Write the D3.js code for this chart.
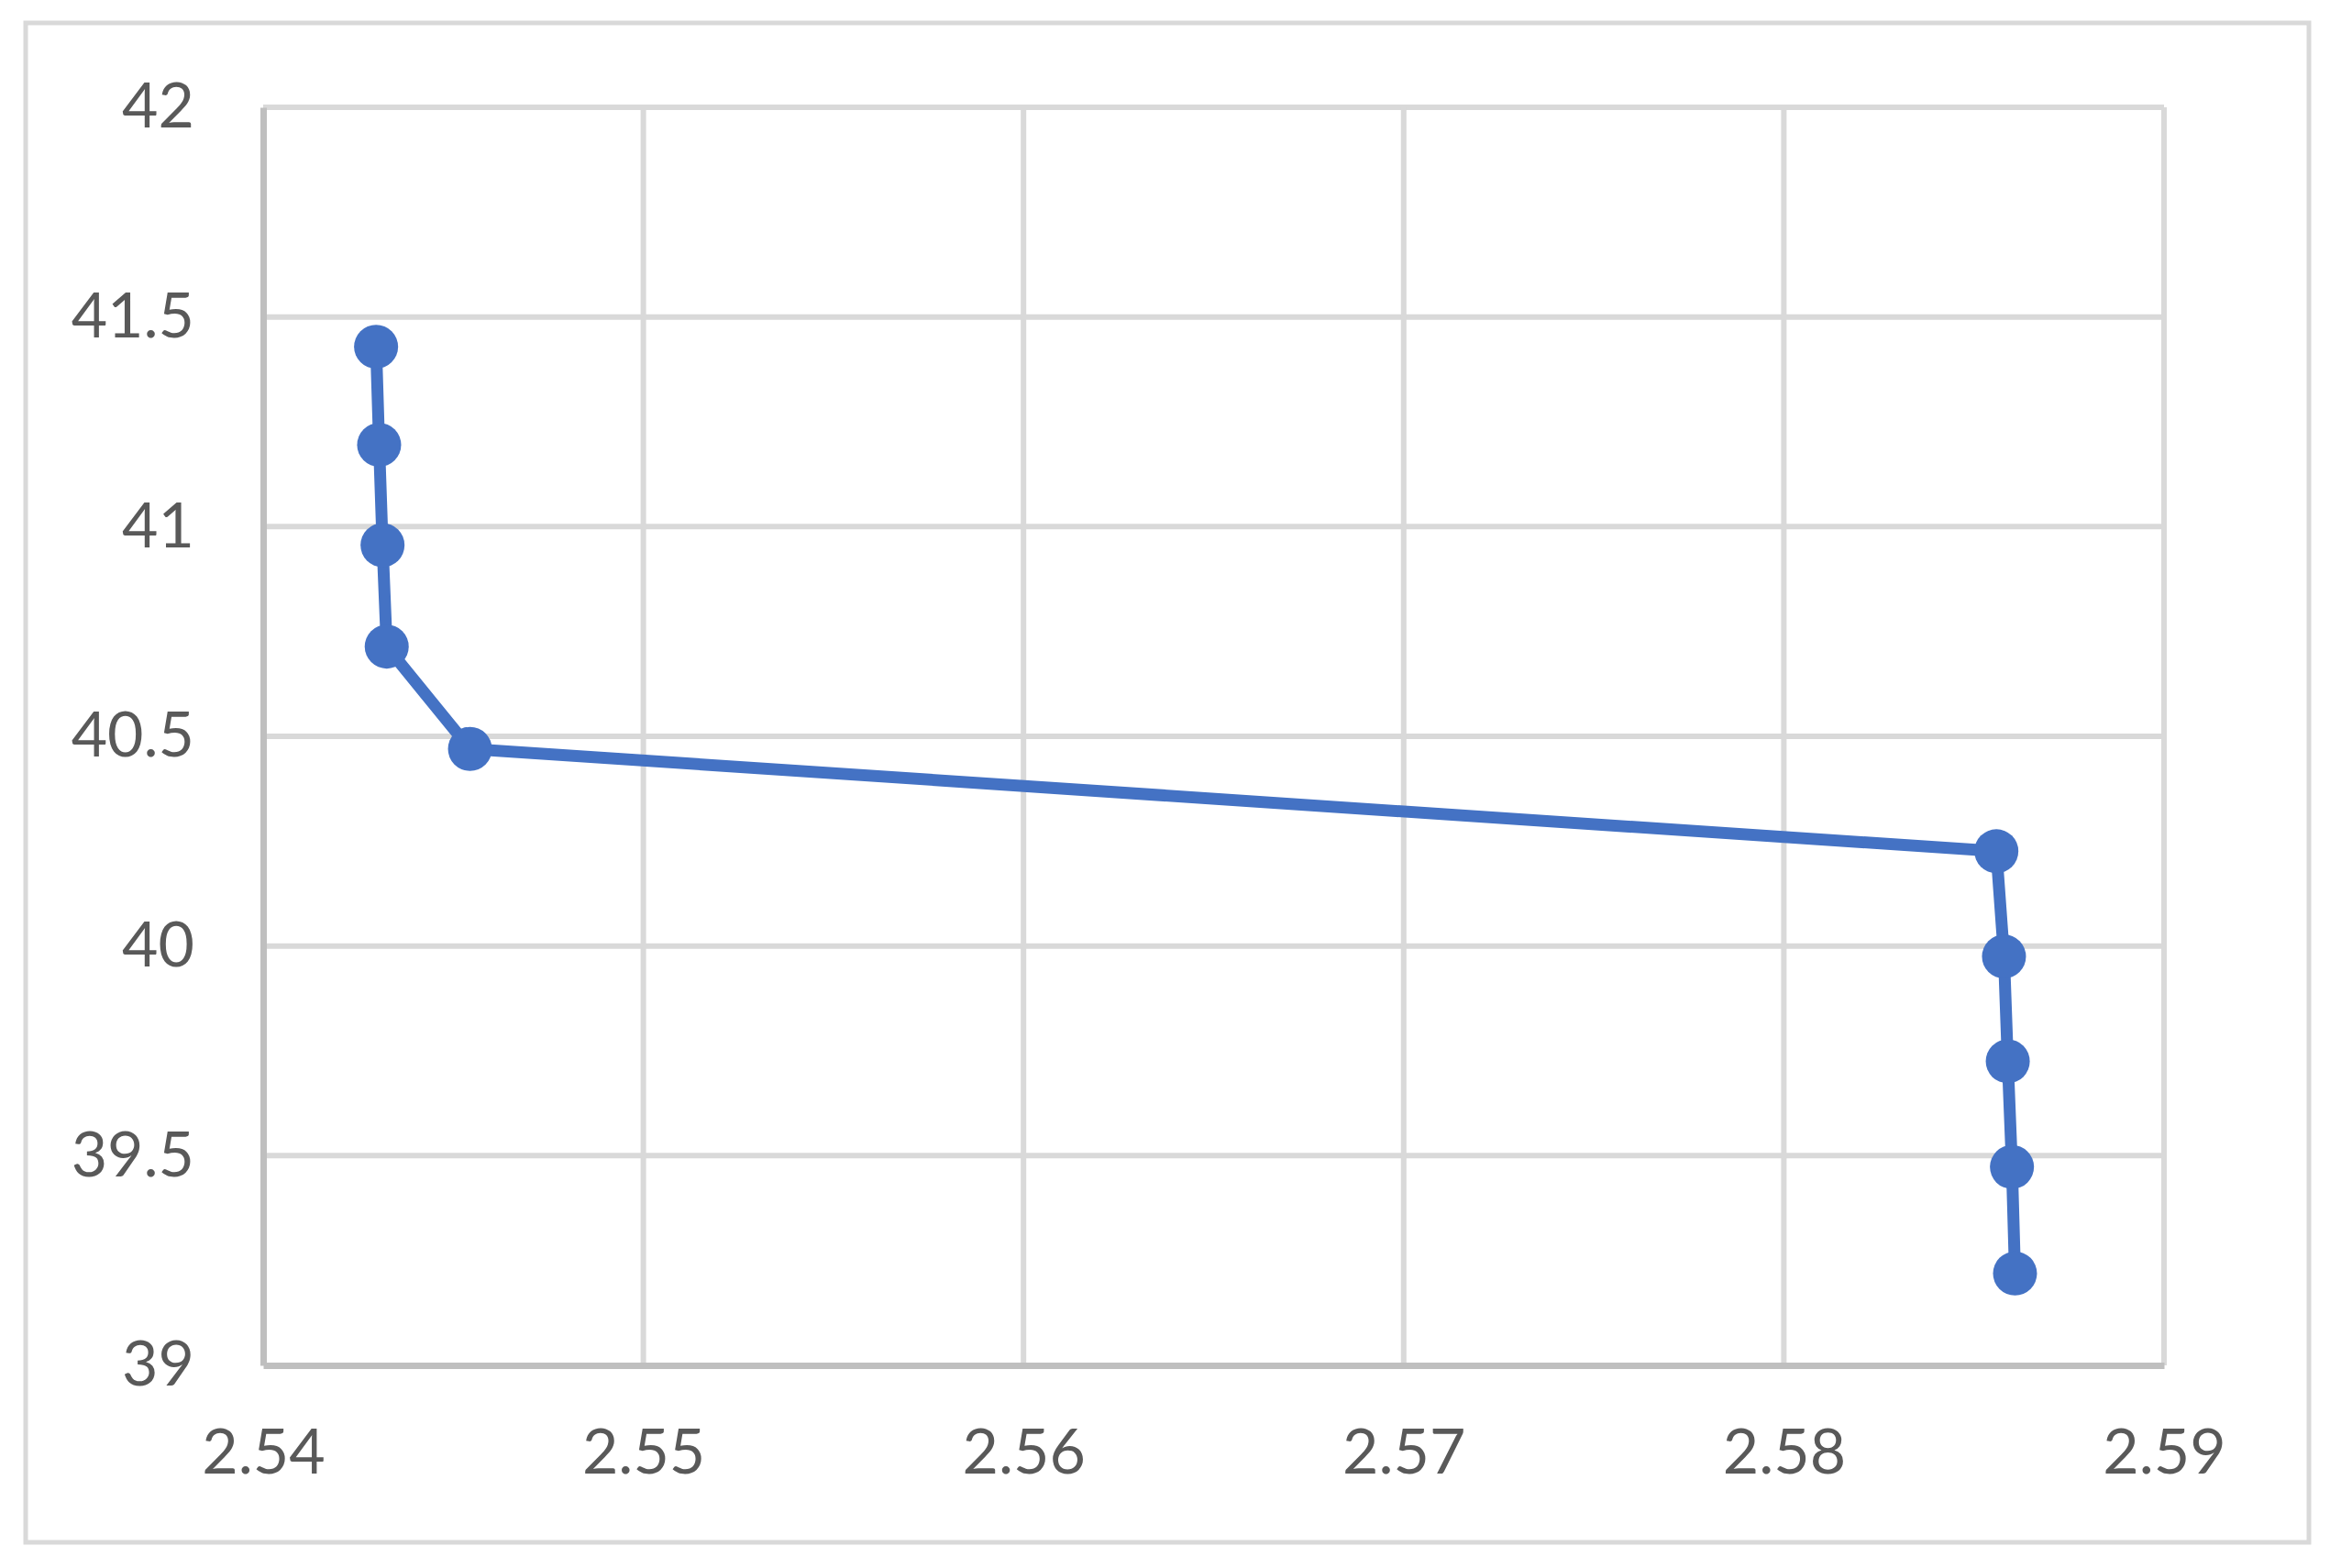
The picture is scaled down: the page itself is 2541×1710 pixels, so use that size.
<!DOCTYPE html>
<html>
<head>
<meta charset="utf-8">
<script src="https://cdn.jsdelivr.net/npm/d3@7"></script>
<style>
  html, body { margin: 0; padding: 0; background: #ffffff; }
  svg { display: block; }
  text { font-family: Lato, "Open Sans", "Liberation Sans", sans-serif; }
</style>
</head>
<body>
<svg id="chart" width="2541" height="1710"></svg>
<script>
// Data
const xValues = [2.54297, 2.54305, 2.54314, 2.54325, 2.54544, 2.58559, 2.58579, 2.58589, 2.58600, 2.58608];
const yValues = [41.429, 41.195, 40.956, 40.714, 40.470, 40.226, 39.975, 39.725, 39.473, 39.219];
const xTicks = [2.54, 2.55, 2.56, 2.57, 2.58, 2.59];
const yTicks = [39, 39.5, 40, 40.5, 41, 41.5, 42];
const xTickLabels = ["2.54", "2.55", "2.56", "2.57", "2.58", "2.59"];
const yTickLabels = ["39", "39.5", "40", "40.5", "41", "41.5", "42"];

const W = 2541, H = 1710;
const plot = { left: 287, right: 2360, top: 117, bottom: 1489 };

const svg = d3.select("#chart");

// outer chart border
svg.append("rect")
  .attr("x", 28).attr("y", 25)
  .attr("width", 2518 - 28).attr("height", 1682 - 25)
  .attr("fill", "#ffffff")
  .attr("stroke", "#d9d9d9")
  .attr("stroke-width", 5);

const x = d3.scaleLinear().domain([2.54, 2.59]).range([plot.left, plot.right]);
const y = d3.scaleLinear().domain([39, 42]).range([plot.bottom, plot.top]);

// gridlines
const grid = svg.append("g");
grid.selectAll("line.h").data(yTicks.filter(v => v !== 39)).enter().append("line")
  .attr("x1", plot.left).attr("x2", plot.right)
  .attr("y1", d => y(d)).attr("y2", d => y(d))
  .attr("stroke", "#d9d9d9").attr("stroke-width", 6);
grid.selectAll("line.v").data(xTicks.filter(v => v !== 2.54)).enter().append("line")
  .attr("y1", plot.top).attr("y2", plot.bottom)
  .attr("x1", d => x(d)).attr("x2", d => x(d))
  .attr("stroke", "#d9d9d9").attr("stroke-width", 6);

// axes (line + labels)
const xAxis = d3.axisBottom(x).tickValues(xTicks)
  .tickFormat((d, i) => xTickLabels[i]).tickSize(0).tickPadding(70);
const gx = svg.append("g").attr("transform", `translate(0,${plot.bottom})`).call(xAxis);
gx.select(".domain").attr("stroke", "#bfbfbf").attr("stroke-width", 7);
gx.selectAll("text").attr("fill", "#595959").attr("font-size", 68)
  .attr("font-family", "Lato, 'Open Sans', sans-serif");

const yAxis = d3.axisLeft(y).tickValues(yTicks)
  .tickFormat((d, i) => yTickLabels[i]).tickSize(0).tickPadding(75);
const gy = svg.append("g").attr("transform", `translate(${plot.left},0)`).call(yAxis);
gy.select(".domain").attr("stroke", "#bfbfbf").attr("stroke-width", 7);
gy.selectAll("text").attr("fill", "#595959").attr("font-size", 68)
  .attr("font-family", "Lato, 'Open Sans', sans-serif");

// series
const pts = xValues.map((v, i) => [v, yValues[i]]);
const line = d3.line().x(d => x(d[0])).y(d => y(d[1]));
svg.append("path")
  .datum(pts)
  .attr("d", line)
  .attr("fill", "none")
  .attr("stroke", "#4472c4")
  .attr("stroke-width", 13)
  .attr("stroke-linejoin", "round");

svg.append("g").selectAll("circle").data(pts).enter().append("circle")
  .attr("cx", d => x(d[0]))
  .attr("cy", d => y(d[1]))
  .attr("r", 24)
  .attr("fill", "#4472c4");
</script>
</body>
</html>
